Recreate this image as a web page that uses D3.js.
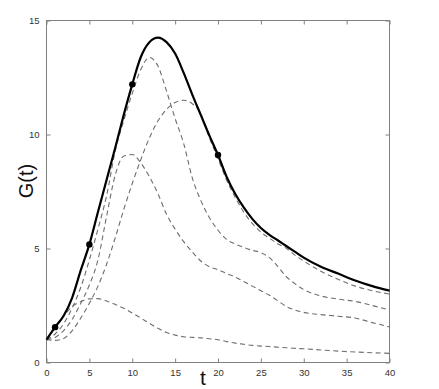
<!DOCTYPE html>
<html>
<head>
<meta charset="utf-8">
<script src="https://cdn.jsdelivr.net/npm/d3@7"></script>
<style>
  body { margin: 0; background: #fff; }
  svg { display: block; font-family: "Liberation Sans", Arial, sans-serif; }
</style>
</head>
<body>
<div id="chart"></div>
<script>
// time points (t) shared by every curve
var tVals = [0, 1, 2, 3, 4, 5, 6, 7, 8, 9, 10, 11, 12, 13, 14, 15, 16, 17, 18, 19, 20,
             21, 22, 23, 24, 25, 26, 27, 28, 29, 30, 32, 34, 36, 38, 40];

// solid curve G(t)
var gMain = [1.0, 1.55, 2.05, 2.85, 4.05, 5.18, 6.6, 8.0, 9.4, 10.85, 12.2, 13.4, 14.05, 14.25, 14.05, 13.55, 12.7, 11.75, 10.85, 9.95, 9.1,
             8.15, 7.4, 6.8, 6.3, 5.9, 5.6, 5.35, 5.1, 4.85, 4.6, 4.2, 3.9, 3.6, 3.35, 3.15];

// dashed curves
var gDash1 = [1.0, 1.55, 2.05, 2.45, 2.68, 2.79, 2.8, 2.7, 2.55, 2.38, 2.17, 1.95, 1.72, 1.5, 1.32, 1.2, 1.13, 1.1, 1.08, 1.04, 1.0,
              0.92, 0.85, 0.8, 0.75, 0.72, 0.7, 0.67, 0.65, 0.62, 0.6, 0.55, 0.5, 0.46, 0.43, 0.4];
var gDash2 = [1.0, 1.1, 1.4, 1.9, 2.6, 3.4, 4.5, 6.4, 8.2, 9.05, 9.12, 8.75, 8.15, 7.4, 6.5, 5.85, 5.3, 4.85, 4.45, 4.2, 4.07,
              3.9, 3.75, 3.55, 3.35, 3.15, 2.95, 2.7, 2.45, 2.3, 2.2, 2.1, 2.03, 1.95, 1.75, 1.56];
var gDash3 = [1.0, 1.25, 1.7, 2.4, 3.3, 4.5, 5.85, 7.3, 9.25, 10.6, 11.8, 12.85, 13.38, 13.0, 11.9, 10.7, 9.6, 8.1, 7.1, 6.35, 5.8,
              5.4, 5.2, 5.05, 4.92, 4.82, 4.6, 4.2, 3.75, 3.45, 3.2, 2.92, 2.78, 2.68, 2.5, 2.3];
var gDash4 = [1.0, 0.97, 1.05, 1.4, 1.95, 2.6, 3.35, 4.3, 5.45, 6.7, 7.85, 8.9, 9.85, 10.6, 11.1, 11.4, 11.5, 11.35, 10.9, 9.85, 8.95,
              8.0, 7.25, 6.6, 6.1, 5.72, 5.45, 5.2, 5.0, 4.7, 4.45, 4.0, 3.65, 3.35, 3.15, 3.0];

// marked points on the solid curve
var markT = [1, 5, 10, 20];

var xTicks = [0, 5, 10, 15, 20, 25, 30, 35, 40];
var yTicks = [0, 5, 10, 15];

var W = 439, H = 389;
var margin = {top: 20.5, right: 49.5, bottom: 26.5, left: 46.5},
    width = W - margin.left - margin.right,
    height = H - margin.top - margin.bottom;

var svg = d3.select("#chart").append("svg")
    .attr("width", W)
    .attr("height", H);

var g = svg.append("g")
    .attr("transform", "translate(" + margin.left + "," + margin.top + ")");

var x = d3.scaleLinear().domain([0, 40]).range([0, width]);
var y = d3.scaleLinear().domain([0, 15]).range([height, 0]);

// axes: ticks point inward, box on all sides
function styleAxis(sel, showText) {
  sel.select(".domain").remove();
  sel.selectAll(".tick line").attr("stroke", "#808080");
  sel.selectAll(".tick text")
    .attr("fill", "#333")
    .style("font-size", "9.5px")
    .style("display", showText ? null : "none");
}

g.append("g")
  .attr("transform", "translate(0," + height + ")")
  .call(d3.axisBottom(x).tickValues(xTicks).tickSizeInner(-4).tickSizeOuter(0).tickPadding(7))
  .call(styleAxis, true);

g.append("g")
  .call(d3.axisTop(x).tickValues(xTicks).tickSizeInner(-4).tickSizeOuter(0))
  .call(styleAxis, false);

g.append("g")
  .call(d3.axisLeft(y).tickValues(yTicks).tickSizeInner(-4).tickSizeOuter(0).tickPadding(7))
  .call(styleAxis, true);

g.append("g")
  .attr("transform", "translate(" + width + ",0)")
  .call(d3.axisRight(y).tickValues(yTicks).tickSizeInner(-4).tickSizeOuter(0))
  .call(styleAxis, false);

g.append("rect")
  .attr("width", width)
  .attr("height", height)
  .attr("fill", "none")
  .attr("stroke", "#808080")
  .attr("stroke-width", 1);

var line = d3.line()
  .x(function(d) { return x(d.t); })
  .y(function(d) { return y(d.v); })
  .curve(d3.curveMonotoneX);

function pairs(vals) {
  return tVals.map(function(t, i) { return {t: t, v: vals[i]}; });
}

var dashed = [gDash1, gDash2, gDash3, gDash4];

g.selectAll(".dash")
  .data(dashed)
  .enter().append("path")
  .attr("class", "dash")
  .attr("d", function(d) { return line(pairs(d)); })
  .attr("fill", "none")
  .attr("stroke", "#6e6e6e")
  .attr("stroke-width", 1.1)
  .attr("stroke-dasharray", "5,3.5");

g.append("path")
  .attr("d", line(pairs(gMain)))
  .attr("fill", "none")
  .attr("stroke", "#000")
  .attr("stroke-width", 2.2);

g.selectAll(".mark")
  .data(markT)
  .enter().append("circle")
  .attr("class", "mark")
  .attr("cx", function(t) { return x(t); })
  .attr("cy", function(t) { return y(gMain[tVals.indexOf(t)]); })
  .attr("r", 3.2)
  .attr("fill", "#000");

// axis titles
svg.append("text")
  .attr("transform", "translate(33,181) rotate(-90)")
  .attr("text-anchor", "middle")
  .style("font-size", "20px")
  .attr("fill", "#111")
  .text("G(t)");

svg.append("text")
  .attr("x", 203)
  .attr("y", 385)
  .attr("text-anchor", "middle")
  .style("font-size", "21px")
  .attr("fill", "#111")
  .text("t");
</script>
</body>
</html>
